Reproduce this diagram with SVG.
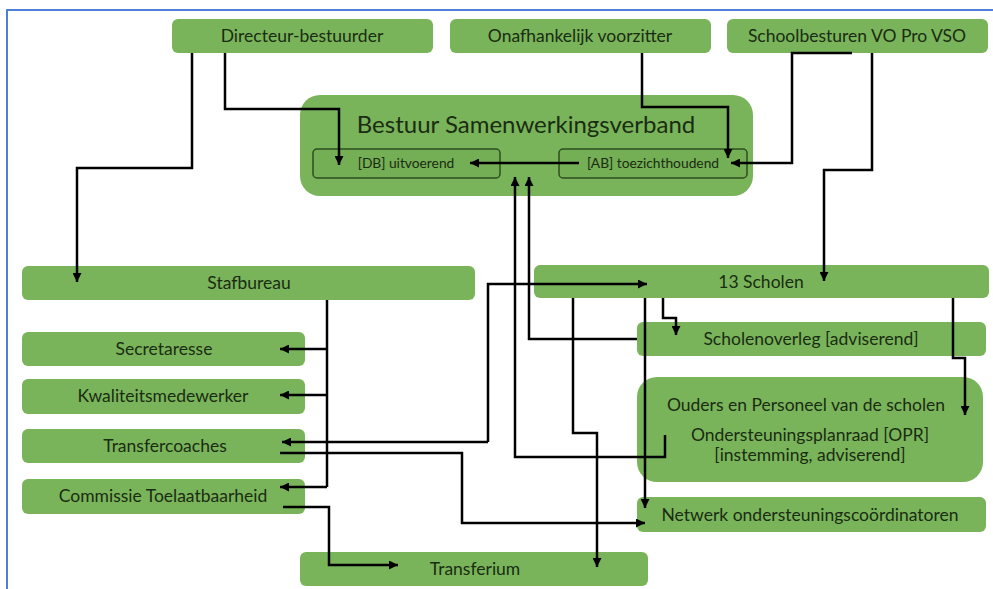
<svg xmlns="http://www.w3.org/2000/svg" width="993" height="589" viewBox="0 0 993 589">
<style>
.box{fill:#79b45a;}
.inner{fill:#74ae55;stroke:#2e4d20;stroke-width:1.5;}
.t{font-family:Lato,"Liberation Sans",sans-serif;font-size:17.5px;fill:#1a2c12;text-anchor:middle;}
.ts{font-family:Lato,"Liberation Sans",sans-serif;font-size:13.8px;fill:#1a2c12;text-anchor:middle;}
.tt{font-family:Lato,"Liberation Sans",sans-serif;font-size:24px;fill:#1a2c12;text-anchor:middle;}
.c{fill:none;stroke:#000;stroke-width:2.5;}
</style>
<defs>
<marker id="a" viewBox="0 0 10 10" refX="10" refY="5" markerWidth="9" markerHeight="9" markerUnits="userSpaceOnUse" orient="auto"><path d="M0,0 L10,5 L0,10 z" fill="#000"/></marker>
</defs>
<rect width="993" height="589" fill="#fff"/>
<rect x="7" y="10" width="1000" height="600" fill="none" stroke="#4d7fd8" stroke-width="2"/>

<g id="directeur"><rect class="box" x="172" y="19" width="261" height="34" rx="6"/><text class="t" x="302" y="42">Directeur-bestuurder</text></g>
<g id="voorzitter"><rect class="box" x="450" y="19" width="261" height="34" rx="6"/><text class="t" x="580" y="42">Onafhankelijk voorzitter</text></g>
<g id="schoolbesturen"><rect class="box" x="727" y="19" width="261" height="34" rx="6"/><text class="t" x="857" y="42">Schoolbesturen VO Pro VSO</text></g>
<g id="bestuur"><rect class="box" x="300" y="95" width="453" height="101" rx="20"/><text class="tt" x="526" y="133">Bestuur Samenwerkingsverband</text>
<rect class="inner" x="313" y="149" width="187" height="29" rx="4"/><text class="ts" x="406" y="168">[DB] uitvoerend</text>
<rect class="inner" x="559" y="149" width="188" height="29" rx="4"/><text class="ts" x="653" y="168">[AB] toezichthoudend</text></g>
<g id="stafbureau"><rect class="box" x="22" y="266" width="453" height="34" rx="6"/><text class="t" x="249" y="289">Stafbureau</text></g>
<g id="scholen"><rect class="box" x="534" y="265" width="455" height="33" rx="6"/><text class="t" x="761" y="288">13 Scholen</text></g>
<g id="scholenoverleg"><rect class="box" x="637" y="322" width="349" height="34" rx="6"/><text class="t" x="811" y="345">Scholenoverleg [adviserend]</text></g>
<g id="opr"><rect class="box" x="637" y="377" width="346" height="105" rx="20"/><text class="t" x="806" y="411">Ouders en Personeel van de scholen</text><text class="t" x="810" y="441">Ondersteuningsplanraad [OPR]</text><text class="t" x="810" y="461">[instemming, adviserend]</text></g>
<g id="netwerk"><rect class="box" x="637" y="497" width="349" height="35" rx="6"/><text class="t" x="810" y="521">Netwerk ondersteuningscoördinatoren</text></g>
<g id="transferium"><rect class="box" x="300" y="552" width="348" height="34" rx="6"/><text class="t" x="475" y="575">Transferium</text></g>
<g id="secretaresse"><rect class="box" x="22" y="332" width="283" height="34" rx="6"/><text class="t" x="164" y="355">Secretaresse</text></g>
<g id="kwaliteit"><rect class="box" x="22" y="379" width="283" height="35" rx="6"/><text class="t" x="163" y="402">Kwaliteitsmedewerker</text></g>
<g id="transfercoaches"><rect class="box" x="22" y="429" width="283" height="34" rx="6"/><text class="t" x="165" y="452">Transfercoaches</text></g>
<g id="commissie"><rect class="box" x="22" y="479" width="283" height="35" rx="6"/><text class="t" x="163" y="502">Commissie Toelaatbaarheid</text></g>

<g id="connectors">
<path class="c" d="M192 53 V168 H77 V282" marker-end="url(#a)"/>
<path class="c" d="M225 53 V109 H339 V165" marker-end="url(#a)"/>
<path class="c" d="M642 53 V107 H728 V158" marker-end="url(#a)"/>
<path class="c" d="M852 53 H792 V163 H731" marker-end="url(#a)"/>
<path class="c" d="M872 53 V170 H824 V281" marker-end="url(#a)"/>
<path class="c" d="M579 163 H470" marker-end="url(#a)"/>
<path class="c" d="M665 435 V457 H515 V177" marker-end="url(#a)"/>
<path class="c" d="M637 339 H529 V177" marker-end="url(#a)"/>
<path class="c" d="M488 442 V284 H647" marker-end="url(#a)"/>
<path class="c" d="M488 442 H282" marker-end="url(#a)"/>
<path class="c" d="M280 453 H462 V523 H645" marker-end="url(#a)"/>
<path class="c" d="M283 507 H329 V565 H398" marker-end="url(#a)"/>
<path class="c" d="M327 300 V487"/>
<path class="c" d="M327 349 H280" marker-end="url(#a)"/>
<path class="c" d="M327 395 H280" marker-end="url(#a)"/>
<path class="c" d="M327 487 H280" marker-end="url(#a)"/>
<path class="c" d="M663 298 V318 H676 V335" marker-end="url(#a)"/>
<path class="c" d="M953 298 V358 H965 V415" marker-end="url(#a)"/>
<path class="c" d="M573 298 V433 H597 V567" marker-end="url(#a)"/>
<path class="c" d="M645 298 V508" marker-end="url(#a)"/>
</g>
</svg>
